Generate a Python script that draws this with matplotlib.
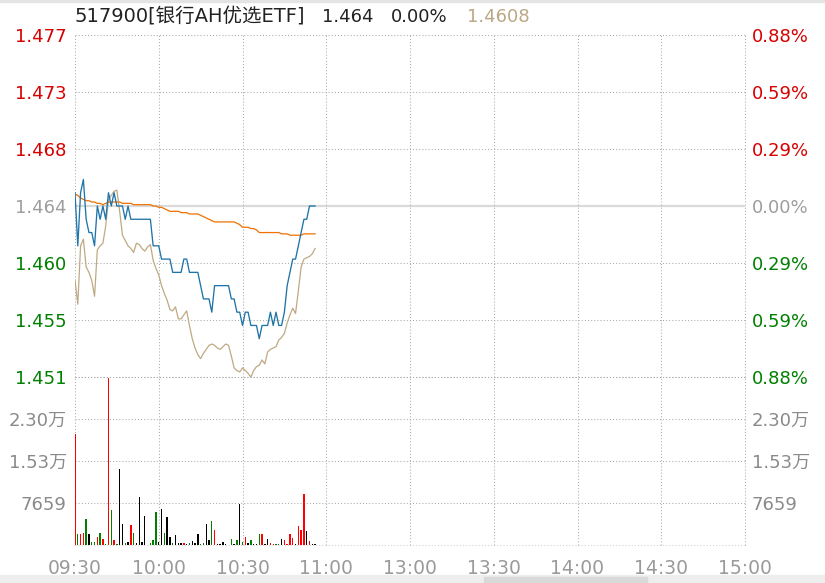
"""
Intraday minute chart for 517900 (银行AH优选ETF): price, average price,
reference value and per-minute volume, styled like a trading terminal.
"""

import matplotlib.pyplot as plt
from matplotlib.patches import Rectangle

plt.rcParams['font.family'] = ['DejaVu Sans', 'Noto Sans CJK SC']

W, H = 825, 583

# ---- data -------------------------------------------------------------
code_name = "517900[银行AH优选ETF]"
prev_close = 1.464
pct_max = 0.88  # % range shown above / below previous close

# minutes after 09:30
minutes = list(range(87))

price = [1.465, 1.461, 1.465, 1.466, 1.463, 1.462, 1.462, 1.461, 1.464, 1.463,
         1.464, 1.463, 1.465, 1.464, 1.465, 1.464, 1.464, 1.464, 1.463, 1.464,
         1.463, 1.463, 1.463, 1.463, 1.463, 1.463, 1.463, 1.463, 1.461, 1.461,
         1.461, 1.460, 1.460, 1.460, 1.460, 1.459, 1.459, 1.459, 1.459, 1.460,
         1.460, 1.459, 1.459, 1.459, 1.459, 1.458, 1.457, 1.457, 1.457, 1.456,
         1.458, 1.458, 1.458, 1.458, 1.458, 1.458, 1.457, 1.457, 1.456, 1.456,
         1.455, 1.456, 1.456, 1.455, 1.455, 1.455, 1.454, 1.455, 1.455, 1.455,
         1.456, 1.455, 1.456, 1.455, 1.455, 1.456, 1.458, 1.459, 1.460, 1.460,
         1.461, 1.462, 1.463, 1.463, 1.464, 1.464, 1.464]

avg_price = [1.4649, 1.4648, 1.4646, 1.4645, 1.4644, 1.4644, 1.4643, 1.4643, 1.4642, 1.4642,
             1.4641, 1.4642, 1.4643, 1.4643, 1.4643, 1.4643, 1.4643, 1.4642, 1.4642, 1.4642,
             1.4642, 1.4641, 1.4641, 1.4641, 1.4641, 1.4641, 1.4641, 1.4641, 1.4640, 1.4640,
             1.4639, 1.4639, 1.4638, 1.4637, 1.4636, 1.4636, 1.4636, 1.4636, 1.4635, 1.4635,
             1.4635, 1.4634, 1.4634, 1.4634, 1.4634, 1.4633, 1.4632, 1.4631, 1.4630, 1.4629,
             1.4628, 1.4628, 1.4628, 1.4628, 1.4628, 1.4628, 1.4628, 1.4628, 1.4627, 1.4626,
             1.4624, 1.4624, 1.4624, 1.4623, 1.4623, 1.4622, 1.4620, 1.4620, 1.4620, 1.4620,
             1.4620, 1.4620, 1.4620, 1.4620, 1.4619, 1.4619, 1.4619, 1.4618, 1.4618, 1.4618,
             1.4618, 1.4618, 1.4619, 1.4619, 1.4619, 1.4619, 1.4619]

ref_value = [1.4584, 1.4566, 1.4610, 1.4615, 1.4594, 1.4590, 1.4584, 1.4572, 1.4607, 1.4610,
             1.4612, 1.4625, 1.4645, 1.4648, 1.4651, 1.4652, 1.4636, 1.4618, 1.4614, 1.4610,
             1.4608, 1.4605, 1.4612, 1.4611, 1.4608, 1.4606, 1.4609, 1.4611, 1.4599, 1.4593,
             1.4588, 1.4580, 1.4574, 1.4569, 1.4562, 1.4561, 1.4564, 1.4555, 1.4555, 1.4558,
             1.4561, 1.4550, 1.4540, 1.4533, 1.4528, 1.4525, 1.4529, 1.4532, 1.4535, 1.4536,
             1.4535, 1.4533, 1.4532, 1.4534, 1.4536, 1.4535, 1.4527, 1.4518, 1.4516, 1.4515,
             1.4518, 1.4516, 1.4514, 1.4511, 1.4516, 1.4519, 1.4520, 1.4524, 1.4521, 1.4530,
             1.4532, 1.4533, 1.4534, 1.4539, 1.4541, 1.4544, 1.4552, 1.4558, 1.4563, 1.4559,
             1.4576, 1.4594, 1.4600, 1.4601, 1.4602, 1.4604, 1.4608]

volume = [20170, 1930, 1930, 2100, 4820, 1930, 480, 480, 1380, 2100,
          1020, 120, 30520, 6440, 840, 120, 13850, 3910, 300, 480,
          3730, 2100, 300, 8790, 480, 5360, 0, 300, 840, 6080,
          480, 6620, 2100, 5180, 1380, 300, 1750, 300, 300, 300,
          120, 300, 660, 300, 1930, 120, 300, 3910, 840, 4460,
          2650, 120, 120, 480, 120, 0, 1020, 120, 840, 7530,
          600, 1380, 300, 840, 120, 120, 1930, 1930, 120, 1020,
          300, 120, 120, 120, 1020, 840, 120, 1930, 1200, 120,
          3550, 2650, 9330, 2470, 660, 120, 120]

# r = up, g = down, k = unchanged
vol_dir = list("rgrrgkggrg" "rgrgrgkkgk" "rgkkkkkggg" "kkgkkgkkkr"
               "kgkkkggkkg" "rkkkkkgkgk" "grkgkkgrkk" "rrggkrrrrk"
               "rrrkrkk")

pct_levels = [0.88, 0.5867, 0.2933, 0.0, -0.2933, -0.5867, -0.88]
price_labels = ['1.477', '1.473', '1.468', '1.464', '1.460', '1.455', '1.451']
pct_labels = ['0.88%', '0.59%', '0.29%', '0.00%', '0.29%', '0.59%', '0.88%']

vol_ticks = [22977, 15318, 7659]
vol_labels = ['2.30万', '1.53万', '7659']
vol_top = 30636

time_ticks = [0, 30, 60, 90, 120, 150, 180, 210, 240]
time_labels = ['09:30', '10:00', '10:30', '11:00', '13:00',
               '13:30', '14:00', '14:30', '15:00']

# ---- style ------------------------------------------------------------
UP, DOWN, FLAT = '#d70000', '#008000', '#9e9e9e'
GRID = '#ababab'
DOT = (0, (1, 2))
BAR_COLORS = {'r': '#ff0000', 'g': '#008000', 'k': '#000000'}


def px_box(left, top, right, bottom):
    return [left / W, 1 - bottom / H, (right - left) / W, (bottom - top) / H]


def level_color(p):
    return UP if p > 0 else DOWN if p < 0 else FLAT


fig = plt.figure(figsize=(W / 100, H / 100), dpi=100)
fig.patch.set_facecolor('white')

ax_p = fig.add_axes(px_box(75, 35, 745, 377))
ax_v = fig.add_axes(px_box(75, 377, 745, 545), sharex=ax_p)

price_grid = [prev_close * (1 + p / 100) for p in pct_levels]
ylo = prev_close * (1 - pct_max / 100)
yhi = prev_close * (1 + pct_max / 100)

# ---- price panel ------------------------------------------------------
for lvl, p in zip(price_grid, pct_levels):
    if p == 0:
        ax_p.axhline(lvl, color='#dadada', lw=1.6, zorder=1)
    else:
        ax_p.axhline(lvl, color=GRID, lw=0.75, ls=DOT, zorder=1, clip_on=False)
for t in time_ticks:
    ax_p.axvline(t, color=GRID, lw=0.75, ls=DOT, zorder=1, clip_on=False)

ax_p.plot(minutes, ref_value, color='#bfa983', lw=0.9, zorder=3)
ax_p.plot(minutes, avg_price, color='#f07100', lw=0.9, zorder=4)
ax_p.plot(minutes, price, color='#1f74a8', lw=0.95, zorder=5)

ax_p.set_xlim(0, 240)
ax_p.set_ylim(ylo, yhi)
ax_p.set_yticks(price_grid)
ax_p.set_yticklabels(price_labels)
ax_p.tick_params(axis='y', length=0, pad=6, labelsize=13)
ax_p.tick_params(axis='x', length=0, labelbottom=False)
for lab, p in zip(ax_p.get_yticklabels(), pct_levels):
    lab.set_color(level_color(p))

ax_pr = ax_p.twinx()
ax_pr.set_ylim(ylo, yhi)
ax_pr.set_yticks(price_grid)
ax_pr.set_yticklabels(pct_labels)
ax_pr.tick_params(axis='y', length=0, pad=5, labelsize=13)
for lab, p in zip(ax_pr.get_yticklabels(), pct_levels):
    lab.set_color(level_color(p))

# ---- volume panel -----------------------------------------------------
for v in vol_ticks + [vol_top]:
    ax_v.axhline(v, color=GRID, lw=0.75, ls=DOT, zorder=1, clip_on=False)
ax_v.axhline(0, color='#d0d0d0', lw=0.75, ls=DOT, zorder=1, clip_on=False)
for t in time_ticks:
    ax_v.axvline(t, color=GRID, lw=0.75, ls=DOT, zorder=1, clip_on=False)

ax_v.bar(minutes, volume, width=0.5, color=[BAR_COLORS[c] for c in vol_dir],
         linewidth=0, zorder=3)

ax_v.set_ylim(0, vol_top)
ax_v.set_yticks(vol_ticks)
ax_v.set_yticklabels(vol_labels)
ax_v.tick_params(axis='y', length=0, pad=6, labelsize=13, colors='#8a8a8a')
ax_v.set_xticks(time_ticks)
ax_v.set_xticklabels(time_labels)
ax_v.tick_params(axis='x', length=0, pad=10, labelsize=13.5, colors='#9a9a9a')

ax_vr = ax_v.twinx()
ax_vr.set_ylim(0, vol_top)
ax_vr.set_yticks(vol_ticks)
ax_vr.set_yticklabels(vol_labels)
ax_vr.tick_params(axis='y', length=0, pad=5, labelsize=13, colors='#8a8a8a')

for ax in (ax_p, ax_pr, ax_v, ax_vr):
    for s in ax.spines.values():
        s.set_visible(False)
    ax.patch.set_alpha(0)

# ---- header -----------------------------------------------------------
last = price[-1]
chg = (last - prev_close) / prev_close * 100
ty = 1 - 17 / H
fig.text(75 / W, ty, code_name, fontsize=14, color='#222222', va='center')
fig.text(322 / W, ty, f"{last:.3f}", fontsize=13, color='#222222', va='center')
fig.text(391 / W, ty, f"{chg:.2f}%", fontsize=13, color='#222222', va='center')
fig.text(467 / W, ty, f"{ref_value[-1]:.4f}", fontsize=13, color='#bba785', va='center')

# window chrome: top edge and bottom scroll strip
fig.patches.append(Rectangle((0, 1 - 2 / H), 1, 2 / H, transform=fig.transFigure,
                             color='#e4e4e4', zorder=0))
fig.patches.append(Rectangle((0, 0), 1, 8 / H, transform=fig.transFigure,
                             color='#eeeeee', zorder=0))
fig.patches.append(Rectangle((484 / W, 0), 163 / W, 6 / H, transform=fig.transFigure,
                             color='#d9d9d9', zorder=0))

fig.savefig('out.png', dpi=100, facecolor='white')
